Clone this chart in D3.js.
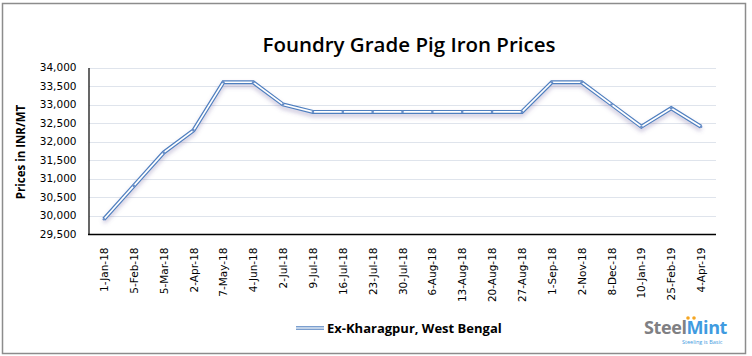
<!DOCTYPE html>
<html><head><meta charset="utf-8">
<script src="https://cdn.jsdelivr.net/npm/d3@7"></script>
<style>body{margin:0;background:#fff}svg{display:block}</style>
</head><body>
<script>
const categories = ["1-Jan-18","5-Feb-18","5-Mar-18","2-Apr-18","7-May-18","4-Jun-18","2-Jul-18","9-Jul-18","16-Jul-18","23-Jul-18","30-Jul-18","6-Aug-18","13-Aug-18","20-Aug-18","27-Aug-18","1-Sep-18","2-Nov-18","8-Dec-18","10-Jan-19","25-Feb-19","4-Apr-19"];
const prices = [29900,30800,31700,32300,33600,33600,33000,32800,32800,32800,32800,32800,32800,32800,32800,33600,33600,33000,32400,32900,32400];
const yTicks = [29500,30000,30500,31000,31500,32000,32500,33000,33500,34000];
const title = "Foundry Grade Pig Iron Prices";
const yLabel = "Prices in INR/MT";
const seriesName = "Ex-Kharagpur, West Bengal";

const W = 752, H = 356;
const svg = d3.select("body").append("svg").attr("width", W).attr("height", H);

// outer border
svg.append("rect").attr("x",2.5).attr("y",3.5).attr("width",743).attr("height",350)
  .attr("fill","#fff").attr("stroke","#8c8c8c").attr("stroke-width",1.5);

const defs = svg.append("defs");
const f = defs.append("filter").attr("id","sh").attr("x","-5%").attr("y","-20%").attr("width","110%").attr("height","150%");
f.append("feGaussianBlur").attr("in","SourceAlpha").attr("stdDeviation",2).attr("result","b");
f.append("feOffset").attr("in","b").attr("dx",0).attr("dy",3).attr("result","o");
f.append("feFlood").attr("flood-color","#6a5a9a").attr("flood-opacity",0.35).attr("result","c");
f.append("feComposite").attr("in","c").attr("in2","o").attr("operator","in").attr("result","s");
const m = f.append("feMerge");
m.append("feMergeNode").attr("in","s");
m.append("feMergeNode").attr("in","SourceGraphic");

const x = d3.scaleBand().domain(categories).range([89, 716]);
const y = d3.scaleLinear().domain([29500, 34000]).range([234, 67.5]);
const cx = d => x(d) + x.bandwidth()/2;

// gridlines
svg.append("g").selectAll("line").data(yTicks.filter(t => t !== 29500)).join("line")
  .attr("x1",89).attr("x2",716).attr("y1",d=>Math.round(y(d))+0.5).attr("y2",d=>Math.round(y(d))+0.5)
  .attr("stroke","#dfe4ec").attr("stroke-width",1);

// y axis
const yAxis = d3.axisLeft(y).tickValues(yTicks).tickSize(0).tickPadding(12).tickFormat(d3.format(","));
const gy = svg.append("g").attr("transform","translate(88.5,0)").call(yAxis);
gy.select(".domain").attr("stroke","#000").attr("stroke-width",1.2);
gy.selectAll("text").attr("font-family","DejaVu Sans, Verdana, sans-serif").attr("font-size","10.5px").attr("fill","#000");

// x axis
const xAxis = d3.axisBottom(x).tickSize(0).tickPadding(0);
const gx = svg.append("g").attr("transform","translate(0,234.5)").call(xAxis);
gx.select(".domain").attr("stroke","#000").attr("stroke-width",1.5).attr("d","M88,0H716");
gx.selectAll("text")
  .attr("font-family","DejaVu Sans, Verdana, sans-serif").attr("font-size","10.5px").attr("fill","#000")
  .attr("text-anchor","end").attr("dy",null).attr("y",null)
  .attr("transform","translate(4,13) rotate(-90)");

// line
const line = d3.line().x((d,i)=>cx(categories[i])).y(d=>y(d));
const lg = svg.append("g").attr("filter","url(#sh)");
lg.append("path").attr("d",line(prices)).attr("fill","none").attr("stroke","#4f7fbf").attr("stroke-width",4).attr("stroke-linejoin","miter");
lg.append("path").attr("d",line(prices)).attr("fill","none").attr("stroke","#fff").attr("stroke-width",1.6).attr("stroke-linejoin","miter");
svg.append("g").selectAll("circle").data(prices).join("circle")
  .attr("cx",(d,i)=>cx(categories[i])).attr("cy",d=>y(d)).attr("r",1.3).attr("fill","#6a8fc8");

// title
svg.append("text").attr("x",409).attr("y",52).attr("text-anchor","middle")
  .attr("font-family","Open Sans, sans-serif").attr("font-weight",600).attr("font-size","20.5px").attr("fill","#000").text(title);

// y label
svg.append("text").attr("transform","translate(25,152) rotate(-90)").attr("text-anchor","middle")
  .attr("font-family","Open Sans, sans-serif").attr("font-weight",700).attr("font-size","11.5px").attr("fill","#000").text(yLabel);

// legend
svg.append("line").attr("x1",296).attr("x2",324).attr("y1",328).attr("y2",328).attr("stroke","#4f7fbf").attr("stroke-width",3.5);
svg.append("line").attr("x1",296).attr("x2",324).attr("y1",328).attr("y2",328).attr("stroke","#fff").attr("stroke-width",1.3);
svg.append("text").attr("x",327).attr("y",333).attr("font-family","Open Sans, sans-serif").attr("font-weight",700)
  .attr("font-size","13px").attr("fill","#000").text(seriesName);

// logo
const logo = svg.append("g");
const lt = logo.append("text").attr("x",644).attr("y",334).attr("font-family","Open Sans, sans-serif").attr("font-weight",700).attr("font-size","18px").attr("letter-spacing","-0.4px");
lt.append("tspan").attr("fill","#7f8083").text("Steel");
lt.append("tspan").attr("fill","#3f9be0").text("Mint");
logo.append("circle").attr("cx",688).attr("cy",318).attr("r",1.8).attr("fill","#f5a623");
logo.append("circle").attr("cx",694).attr("cy",318).attr("r",1.8).attr("fill","#f5a623");
logo.append("text").attr("x",682).attr("y",344).attr("font-family","Open Sans, sans-serif").attr("font-size","5.5px").attr("fill","#3f9be0").text("Steeling is Basic");
</script>
</body></html>
